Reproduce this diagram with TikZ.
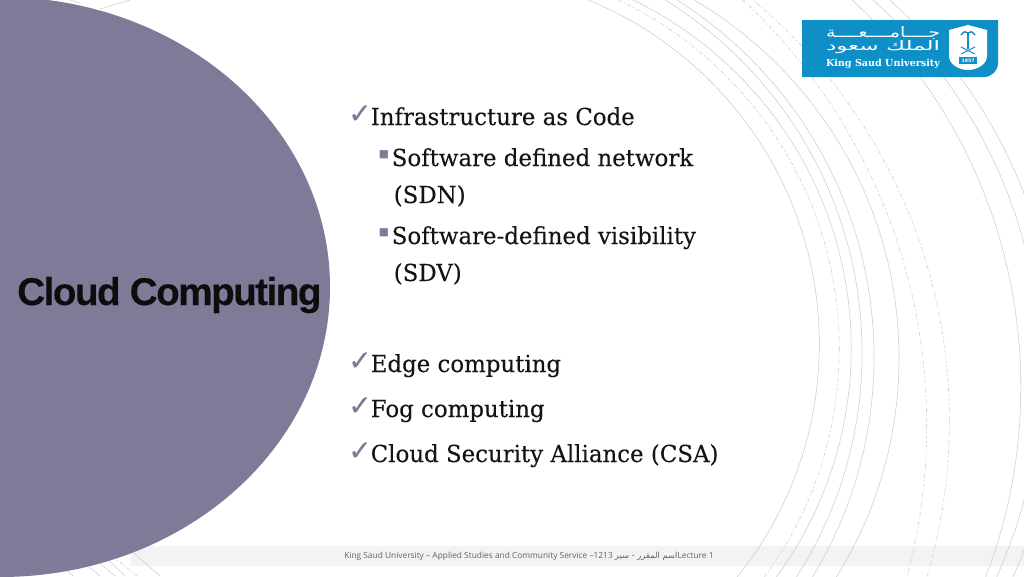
\documentclass[tikz,border=0pt]{standalone}
\usepackage{fontspec}
\usepackage{graphicx}
\TeXXeTstate=1
\newfontfamily\slabfont[FakeStretch=0.975,FakeBold=0.12]{DejaVu Serif}
\newfontfamily\titlefont[FakeBold=0.25,LetterSpace=-4]{Liberation Sans Bold}
\newfontfamily\footfont{Open Sans}
\newfontfamily\symfont{DejaVu Sans}
\newfontfamily\tickfont[FakeBold=0.15]{DejaVu Sans}
\newfontfamily\arabicfont[Script=Arabic]{DejaVu Sans}
\newfontfamily\logofont{DejaVu Serif}
\definecolor{plum}{HTML}{7E7A98}
\definecolor{ringgray}{HTML}{D0D0D0}
\definecolor{bandgray}{HTML}{F2F3F5}
\definecolor{logoblue}{HTML}{0E8FC5}
\definecolor{footgray}{HTML}{626266}
\tikzset{
  ring/.style={draw=ringgray,line width=0.45pt},
  ringdash/.style={ring,dash pattern=on 3pt off 1.6pt on 1pt off 1.6pt},
  lvlone/.style={anchor=base west,inner sep=0pt,font=\slabfont\fontsize{17.6}{20}\selectfont,text=black!92},
  tick/.style={anchor=base east,inner sep=0pt,text=plum,font=\tickfont\fontsize{21}{21}\selectfont},
  sqbullet/.style={anchor=center,inner sep=0pt,text=plum,font=\symfont\fontsize{8}{8}\selectfont},
  logotext/.style={inner sep=0pt,text=white}
}
\begin{document}
\begin{tikzpicture}[x=0.75pt,y=-0.75pt]
\useasboundingbox (0,0) rectangle (1024,576);
\fill[white] (0,0) rectangle (1024,576);
% footer band
\fill[bandgray] (130,546) rectangle (1024,566);
% rings
\begin{scope}
\clip (560,0) rectangle (1024,576);
\draw[ring] (447.9,344.0) circle[radius=371.4];
\draw[ringdash] (453.7,348.7) circle[radius=385.5];
\draw[ring] (464.3,348.2) circle[radius=386.9];
\draw[ring] (447.4,353.0) circle[radius=414.7];
\draw[ring] (451.5,357.3) circle[radius=422.5];
\draw[ring] (484.2,357.8) circle[radius=414.8];
\draw[ringdash] (341.9,425.5) circle[radius=584.8];
\draw[ringdash] (400.3,420.8) circle[radius=549.1];
\draw[ring] (491.8,387.2) circle[radius=529];
\draw[ring] (544.8,372) circle[radius=496];
\draw[ring] (560,372) circle[radius=497];
\end{scope}
% ring ends at the left
\draw[ring] (100,9) -- (130,0);
\draw[ring] (70,0) -- (80,3);
\draw[ring] (120,541) -- (160,576);
\draw[ringdash] (105,550) -- (137,576);
\draw[ring] (100,552) -- (125,576);
\draw[ring] (90,555) -- (115,576);
\draw[ring] (80,560) -- (100,576);
\draw[ring] (60,565) -- (73,576);
% purple disc
\fill[plum] (0,287) ellipse[x radius=330,y radius=290];
\node[anchor=base west,inner sep=0pt,text=black!95,font=\titlefont\fontsize{29}{32}\selectfont] (title) at (17,305) {Cloud Computing};
% logo
\fill[logoblue] (802,20) -- (998,20) -- (998,63) arc[start angle=0,end angle=90,radius=14] -- (802,77) -- cycle;
\node[logotext] (logoa) at (883,33) {\resizebox{114\dimexpr0.75pt\relax}{11\dimexpr0.75pt\relax}{\arabicfont\beginR جــــامــــعــــة\endR}};
\node[logotext] (logob) at (883,47.5) {\resizebox{114\dimexpr0.75pt\relax}{10\dimexpr0.75pt\relax}{\arabicfont\beginR الملك سعود\endR}};
\node[logotext,anchor=base] (logoc) at (883,66) {\resizebox{114\dimexpr0.75pt\relax}{!}{\logofont\bfseries King Saud University}};
\fill[white] (949,30) -- (968,25) -- (987,30) -- (987,56) .. controls (987,65) and (976,70) .. (968,70) .. controls (960,70) and (949,65) .. (949,56) -- cycle;
\draw[logoblue,line width=0.9pt] (968,33) -- (968,49);
\draw[logoblue,line width=1.1pt] (961,35) .. controls (964,31) and (966,31) .. (968,33) .. controls (970,31) and (972,31) .. (975,35);
\draw[logoblue,line width=0.8pt] (961,47) -- (975,54) (975,47) -- (961,54);
\fill[logoblue] (959,57) rectangle (977,64);
\node[logotext,font=\symfont\bfseries\fontsize{3.5}{4}\selectfont] (logod) at (968,60.5) {1957};
% bullets
\node[lvlone] (t1) at (370.5,125) {Infrastructure as Code};
\node[tick] (c1) at (372,123) {✓};
\node[lvlone] (t2) at (391.5,166) {Software defined network};
\node[sqbullet] (b2) at (384,155) {■};
\node[lvlone] (t3) at (393.5,203) {(SDN)};
\node[lvlone] (t4) at (391.5,244) {Software-defined visibility};
\node[sqbullet] (b4) at (384,233) {■};
\node[lvlone] (t5) at (393.5,281) {(SDV)};
\node[lvlone] (t6) at (370.5,372) {Edge computing};
\node[tick] (c6) at (372,370) {✓};
\node[lvlone] (t7) at (370.5,417) {Fog computing};
\node[tick] (c7) at (372,415) {✓};
\node[lvlone] (t8) at (370.5,462) {Cloud Security Alliance (CSA)};
\node[tick] (c8) at (372,460) {✓};
% footer
\node[anchor=base west,inner sep=0pt,text=footgray,font=\footfont\fontsize{6.27}{8}\selectfont] (foot) at (344,558) {King Saud University – Applied Studies and Community Service –1213 {\arabicfont\beginR اسم المقرر - سير\endR}Lecture 1};
\end{tikzpicture}
\end{document}
